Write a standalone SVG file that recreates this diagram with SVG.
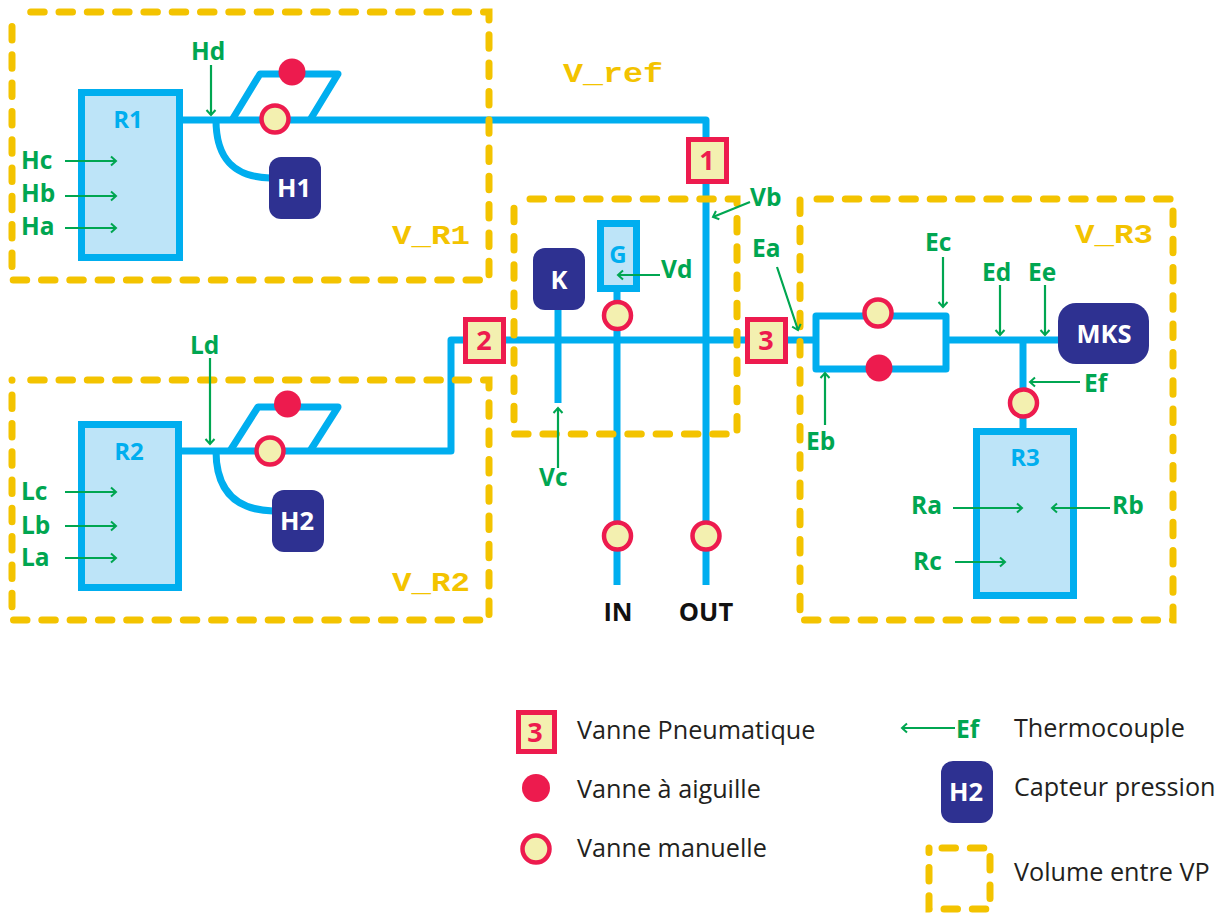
<svg xmlns="http://www.w3.org/2000/svg" width="1216" height="915" viewBox="0 0 1216 915">
<style>
text{font-family:"Open Sans","Noto Sans",sans-serif}
.pipe{fill:none;stroke:#00aeef;stroke-width:7;stroke-linejoin:round}
.vol{fill:none;stroke:#f3c300;stroke-width:7;stroke-linecap:round;stroke-dasharray:13.5 14.8}
.tank{fill:#bde4f8;stroke:#00aeef;stroke-width:7}
.tl{fill:#00aeef;font-weight:700;font-size:24px;text-anchor:middle}
.sens{fill:#2e3191}
.sl{fill:#fff;font-weight:700;font-size:25.5px;text-anchor:middle}
.man{fill:#f3f0b0;stroke:#ed1b4e;stroke-width:4.5}
.ndl{fill:#ed1b4e}
.pv{fill:#f3f0b0;stroke:#ed1b4e;stroke-width:5}
.pl{fill:#ed1b4e;font-weight:700;font-size:27px;text-anchor:middle}
.g{fill:#00a651;font-weight:700;font-size:24.5px}
.th{fill:none;stroke:#00a651;stroke-width:2.2;marker-end:url(#a)}
.vn{fill:#f3c300;font-family:"Liberation Mono",monospace;font-weight:700;font-size:28px}
.lg{fill:#231f20;font-size:25.2px}
.io{fill:#111;font-weight:700;font-size:25.5px;text-anchor:middle}
</style>
<defs>
<marker id="a" markerUnits="userSpaceOnUse" markerWidth="12" markerHeight="12" refX="9.5" refY="6" orient="auto">
<path d="M4.5 1.5L9.5 6L4.5 10.5" fill="none" stroke="#00a651" stroke-width="2"/>
</marker>
</defs>
<g id="connectors">
<path class="pipe" d="M180 120H706V585"/>
<path class="pipe" d="M232 120L260 74H338L310 120"/>
<path class="pipe" d="M216 120C216 160 235 177 270 178"/>
<path class="pipe" d="M180 451H451V340H815"/>
<path class="pipe" d="M230 451L258 407H338L310 451"/>
<path class="pipe" d="M216 451C216 490 235 510 273 511"/>
<path class="pipe" d="M558 305V403"/>
<path class="pipe" d="M617 290V585"/>
<path class="pipe" d="M816 316H946V369H816Z"/>
<path class="pipe" d="M946 340H1060"/>
<path class="pipe" d="M1023 340V430"/>
</g>
<g id="V_R1"><path class="vol" d="M30.7 12H489V280H12V12"/><text class="vn" x="392" y="244" textLength="78" lengthAdjust="spacingAndGlyphs">V_R1</text></g>
<g id="V_R2"><path class="vol" d="M30.7 380H489V620H12V380"/><text class="vn" x="392" y="591" textLength="78" lengthAdjust="spacingAndGlyphs">V_R2</text></g>
<g id="V_mid"><path class="vol" d="M530 199H737V434H514V199"/></g>
<g id="V_R3"><path class="vol" d="M817 199H1173V620H800V199"/><text class="vn" x="1075" y="243" textLength="78" lengthAdjust="spacingAndGlyphs">V_R3</text></g>
<g id="V_ref"><text class="vn" x="563" y="82" textLength="100" lengthAdjust="spacingAndGlyphs">V_ref</text></g>
<g id="R1"><rect class="tank" x="81.500" y="92.500" width="98" height="165"/><text class="tl" x="128" y="128">R1</text></g>
<g id="R2"><rect class="tank" x="81.500" y="424.500" width="97" height="163"/><text class="tl" x="129" y="460">R2</text></g>
<g id="R3"><rect class="tank" x="976.500" y="431.500" width="97" height="164"/><text class="tl" x="1025" y="466">R3</text></g>
<g id="G"><rect class="tank" x="600.500" y="223.500" width="36" height="65"/><text class="tl" x="618" y="263">G</text></g>
<g id="K"><rect class="sens" x="533" y="248" width="52" height="62" rx="12"/><text class="sl" x="559" y="289">K</text></g>
<g id="H1"><rect class="sens" x="269" y="157" width="52" height="62" rx="12"/><text class="sl" x="294" y="197">H1</text></g>
<g id="H2"><rect class="sens" x="272" y="490" width="52" height="62" rx="12"/><text class="sl" x="297" y="530">H2</text></g>
<g id="MKS"><rect class="sens" x="1058" y="303" width="91" height="61" rx="18"/><text class="sl" x="1104" y="343">MKS</text></g>
<g id="VP1"><rect class="pv" x="688.500" y="139.500" width="38" height="42"/><text class="pl" x="707" y="170">1</text></g>
<g id="VP2"><rect class="pv" x="465.500" y="319.500" width="38" height="42"/><text class="pl" x="484" y="350">2</text></g>
<g id="VP3"><rect class="pv" x="747.500" y="319.500" width="38" height="42"/><text class="pl" x="766" y="350">3</text></g>
<g id="VM1"><circle class="man" cx="275" cy="119" r="13.500"/></g>
<g id="VM2"><circle class="man" cx="270" cy="451" r="13.500"/></g>
<g id="VM3"><circle class="man" cx="617.500" cy="315.500" r="13.500"/></g>
<g id="VM4"><circle class="man" cx="617.500" cy="536" r="13.500"/></g>
<g id="VM5"><circle class="man" cx="706" cy="536" r="13.500"/></g>
<g id="VM6"><circle class="man" cx="878" cy="313" r="13.500"/></g>
<g id="VM7"><circle class="man" cx="1023.500" cy="403" r="13.500"/></g>
<g id="VA1"><circle class="ndl" cx="292" cy="72" r="13.500"/></g>
<g id="VA2"><circle class="ndl" cx="287.500" cy="404" r="13.500"/></g>
<g id="VA3"><circle class="ndl" cx="879" cy="368" r="13.500"/></g>
<g id="thermocouples">
<path class="th" d="M65 161H116"/><text class="g" x="21" y="169">Hc</text>
<path class="th" d="M65 196H116"/><text class="g" x="21" y="202">Hb</text>
<path class="th" d="M65 228H116"/><text class="g" x="21" y="235">Ha</text>
<path class="th" d="M211 65V115"/><text class="g" x="191" y="60">Hd</text>
<path class="th" d="M65 492H116"/><text class="g" x="21" y="500">Lc</text>
<path class="th" d="M65 526H116"/><text class="g" x="21" y="534">Lb</text>
<path class="th" d="M65 558H116"/><text class="g" x="21" y="566">La</text>
<path class="th" d="M210 358V444"/><text class="g" x="190" y="354">Ld</text>
<path class="th" d="M750 202L713 217"/><text class="g" x="750" y="206">Vb</text>
<path class="th" d="M660 275H618"/><text class="g" x="661" y="278">Vd</text>
<path class="th" d="M558 468V408"/><text class="g" x="539" y="486">Vc</text>
<path class="th" d="M777 267L798 330"/><text class="g" x="752" y="257">Ea</text>
<path class="th" d="M825 425V373"/><text class="g" x="806" y="450">Eb</text>
<path class="th" d="M943 257V307"/><text class="g" x="925" y="251">Ec</text>
<path class="th" d="M1000 285V335"/><text class="g" x="982" y="281">Ed</text>
<path class="th" d="M1045 285V335"/><text class="g" x="1028" y="281">Ee</text>
<path class="th" d="M1080 382H1030"/><text class="g" x="1084" y="392">Ef</text>
<path class="th" d="M953 508H1022"/><text class="g" x="911" y="514">Ra</text>
<path class="th" d="M1110 508H1052"/><text class="g" x="1112" y="514">Rb</text>
<path class="th" d="M955 562H1005"/><text class="g" x="913" y="570">Rc</text>
</g>
<g id="ports"><text class="io" x="618" y="621">IN</text><text class="io" x="706" y="621">OUT</text></g>
<g id="legend">
<rect class="pv" x="518.500" y="712.500" width="36" height="39"/><text class="pl" x="535" y="742">3</text>
<text class="lg" x="577" y="739">Vanne Pneumatique</text>
<circle class="ndl" cx="536" cy="788" r="14"/><text class="lg" x="577" y="798">Vanne à aiguille</text>
<circle class="man" cx="536" cy="849" r="13.500"/><text class="lg" x="577" y="857">Vanne manuelle</text>
<path class="th" d="M955 728H902"/><text class="g" x="956" y="738">Ef</text>
<text class="lg" x="1014" y="737">Thermocouple</text>
<rect class="sens" x="941" y="761" width="52" height="62" rx="12"/><text class="sl" x="966" y="801">H2</text>
<text class="lg" x="1014" y="796">Capteur pression</text>
<path class="vol" d="M942 848H990V909H929V848"/>
<text class="lg" x="1014" y="881">Volume entre VP</text>
</g>
</svg>
